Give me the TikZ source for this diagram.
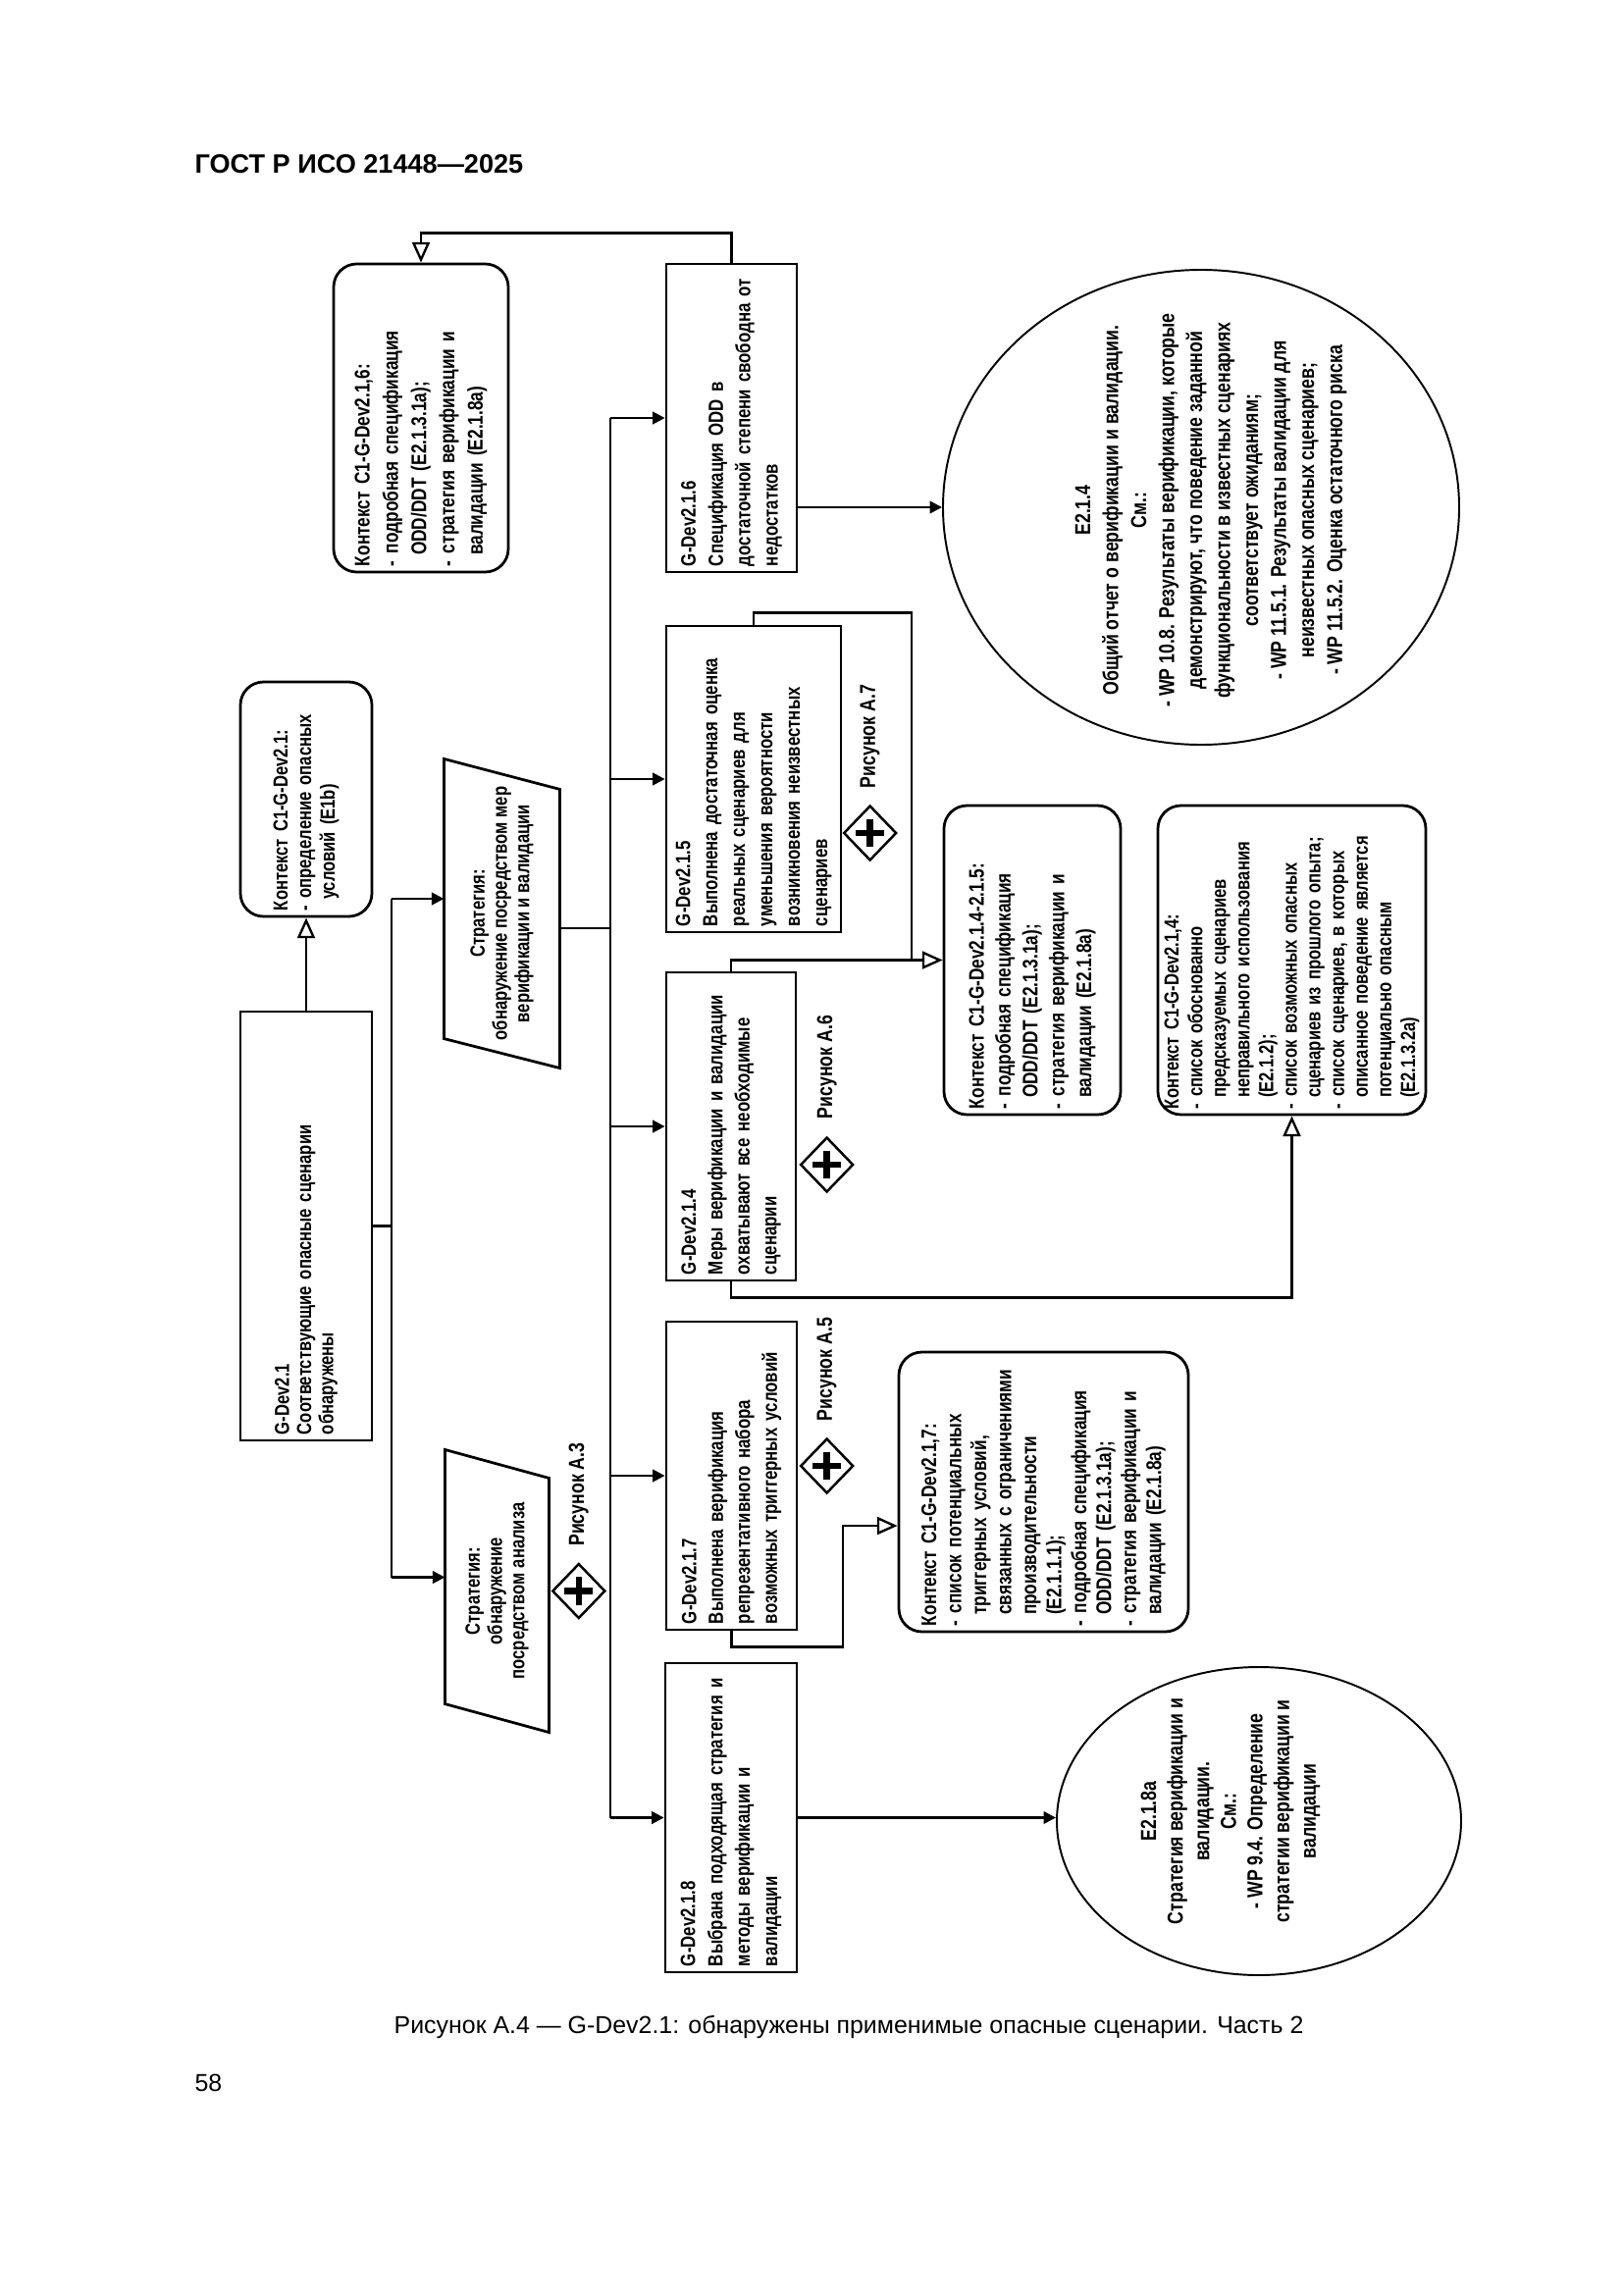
\documentclass[tikz,border=0pt]{standalone}
\usepackage{fontspec}
\setmainfont{Liberation Sans}
\newfontfamily\dfont[FakeStretch=0.8]{Liberation Sans}
\usetikzlibrary{arrows.meta,shapes.geometric,calc}
\newdimen\pxu \pxu=0.12697mm
\newcommand\hind{\hspace*{1.4mm}}
\begin{document}
\begin{tikzpicture}[x=0.12697mm, y=-0.12697mm,
  base/.style={font=\dfont\bfseries\fontsize{7.6}{10.1}\selectfont, inner sep=0pt},
  fs/.style 2 args={font=\dfont\bfseries\fontsize{#1}{#2}\selectfont},
  box/.style 2 args={minimum width=#1*\pxu, minimum height=#2*\pxu, text width=#1*\pxu-12*\pxu},
  goal/.style={base, draw, line width=1pt, rotate=90, align=left, inner xsep=6*\pxu, inner ysep=0pt},
  ctxbox/.style={goal, rounded corners=8.5pt},
  strat/.style={base, rotate=90, align=center},
  solution/.style={draw, ellipse, line width=0.7pt, inner sep=0pt},
  soltext/.style={base, rotate=90, align=center},
  dmd/.style={diamond, draw, line width=0.9pt, fill=white, inner sep=0pt,
    minimum width=54*\pxu, minimum height=56*\pxu,
    path picture={
      \draw[line width=2.3pt] ([xshift=-5.2pt]path picture bounding box.center) -- ([xshift=5.2pt]path picture bounding box.center);
      \draw[line width=2.3pt] ([yshift=-5.2pt]path picture bounding box.center) -- ([yshift=5.2pt]path picture bounding box.center);}},
  lbl/.style={base, fs={8}{10}, rotate=90, anchor=west},
  line/.style={line width=0.85pt},
  arr/.style={line, -{Triangle[length=4.5pt,width=4.5pt]}},
  ctx/.style={line, -{Triangle[open,length=7.5pt,width=6.5pt]}}
]
\fill[white] (0,0) rectangle (1654,2339);
\useasboundingbox (0,0) rectangle (1654,2339);

% header, caption, page number
\node[anchor=base west, inner sep=0pt, font=\bfseries\fontsize{9.8}{12}\selectfont] (hdr) at (198,177) {ГОСТ Р ИСО 21448—2025};
\node[anchor=base, inner sep=0pt, font=\fontsize{9}{11}\selectfont] (cap) at (865,2072) {Рисунок А.4 — G-Dev2.1: обнаружены применимые опасные сценарии. Часть 2};
\node[anchor=base west, inner sep=0pt, font=\fontsize{9}{11}\selectfont] (pg) at (198,2131) {58};

% goals
\node[goal, box={437}{134}, fs={7.5}{8.1}] (g21) at (312,1249.5) {G-Dev2.1\\Соответствующие опасные сценарии\\обнаружены};
\node[goal, box={314}{133}] (g216) at (745.5,426) {G-Dev2.1.6\\Спецификация ODD в\\достаточной степени свободна от\\недостатков};
\node[goal, box={312}{178}] (g215) at (768,794) {G-Dev2.1.5\\Выполнена достаточная оценка\\реальных сценариев для\\уменьшения вероятности\\возникновения неизвестных\\сценариев};
\node[goal, box={314}{132}, fs={7.6}{9.9}] (g214) at (745,1148) {G-Dev2.1.4\\Меры верификации и валидации\\охватывают все необходимые\\сценарии};
\node[goal, box={314}{133}, fs={7.6}{9.9}] (g217) at (745.5,1504) {G-Dev2.1.7\\Выполнена верификация\\репрезентативного набора\\возможных триггерных условий};
\node[goal, box={315}{134}] (g218) at (745,1852.5) {G-Dev2.1.8\\Выбрана подходящая стратегия и\\методы верификации и\\валидации};

% contexts
\node[ctxbox, box={239}{134}, fs={7.5}{8.7}] (c21) at (312,814.5) {Контекст C1-G-Dev2.1:\\- определение опасных\\\hind условий (E1b)};
\node[ctxbox, box={314}{178}, fs={7.8}{10.4}] (c216) at (429,426) {Контекст C1-G-Dev2.1,6:\\- подробная спецификация\\\hind ODD/DDT (E2.1.3.1a);\\- стратегия верификации и\\\hind валидации (E2.1.8a)};
\node[ctxbox, box={315}{180}, fs={7.8}{9.9}] (c2145) at (1052,978.5) {Контекст C1-G-Dev2.1.4-2.1.5:\\- подробная спецификация\\\hind ODD/DDT (E2.1.3.1a);\\- стратегия верификации и\\\hind валидации (E2.1.8a)};
\node[ctxbox, box={315}{273}, fs={7.5}{8.7}] (c214) at (1316.5,978.5) {Контекст C1-G-Dev2.1,4:\\- список обоснованно\\\hind предсказуемых сценариев\\\hind неправильного использования\\\hind (E2.1.2);\\- список возможных опасных\\\hind сценариев из прошлого опыта;\\- список сценариев, в которых\\\hind описанное поведение является\\\hind потенциально опасным\\\hind (E2.1.3.2a)};
\node[ctxbox, box={285}{295}, fs={7.8}{9.2}] (c217) at (1063.5,1520.5) {Контекст C1-G-Dev2.1,7:\\- список потенциальных\\\hind триггерных условий,\\\hind связанных с ограничениями\\\hind производительности\\\hind (E2.1.1.1);\\- подробная спецификация\\\hind ODD/DDT (E2.1.3.1a);\\- стратегия верификации и\\\hind валидации (E2.1.8a)};

% strategies
\node[strat, minimum width=314*\pxu, minimum height=117*\pxu, fs={7.5}{8.2}] (s1) at (511.5,931) {Стратегия:\\обнаружение посредством мер\\верификации и валидации};
\draw[line width=1pt] (s1.north east) -- ($(s1.south east)+(0,31)$) -- (s1.south west) -- ($(s1.north west)+(0,-30)$) -- cycle;
\node[strat, minimum width=287*\pxu, minimum height=105*\pxu, fs={7.5}{8.2}] (s2) at (506.5,1621.5) {Стратегия:\\обнаружение\\посредством анализа};
\draw[line width=1pt] (s2.north east) -- ($(s2.south east)+(0,29)$) -- (s2.south west) -- ($(s2.north west)+(0,-29)$) -- cycle;

% solutions
\node[solution, minimum width=526*\pxu, minimum height=484*\pxu] (e214) at (1224,517) {};
\node[soltext, fs={8}{10.3}] (e214t) at (1234,520) {E2.1.4\\Общий отчет о верификации и валидации.\\См.:\\- WP 10.8. Результаты верификации, которые\\демонстрируют, что поведение заданной\\функциональности в известных сценариях\\соответствует ожиданиям;\\- WP 11.5.1. Результаты валидации для\\неизвестных опасных сценариев;\\- WP 11.5.2. Оценка остаточного риска};
\node[solution, minimum width=412*\pxu, minimum height=314*\pxu] (e218) at (1283,1856) {};
\node[soltext, fs={8}{9.8}] (e218t) at (1254,1846) {E2.1.8a\\Стратегия верификации и\\валидации.\\См.:\\- WP 9.4. Определение\\стратегии верификации и\\валидации};

% undeveloped diamonds and labels
\node[dmd, anchor=west] (d215) at ($(g215.south)+(0,55)$) {};
\node[dmd, anchor=west] (d214) at ($(g214.south)+(2,39)$) {};
\node[dmd, anchor=west] (d217) at ($(g217.south)+(1,-10)$) {};
\node[dmd, anchor=west] (ds2) at ($(s2.south)+(2,0)$) {};
\node[lbl] (l7) at ($(d215.north)+(0,-16)$) {Рисунок А.7};
\node[lbl] (l6) at ($(d214.north)+(0,-17)$) {Рисунок А.6};
\node[lbl] (l5) at ($(d217.north)+(0,-16)$) {Рисунок А.5};
\node[lbl] (l3) at ($(ds2.north)+(0,-16)$) {Рисунок А.3};

% connectors: strategy bus
\coordinate (sb) at (399,0);
\coordinate (mb) at (622,0);
\coordinate (s1in) at ($(s1.north)+(0,-15)$);
\coordinate (s1out) at ($(s1.south)+(0,15)$);
\coordinate (s2in) at ($(s2.north)+(0,-14)$);
\draw[line] (s1in -| sb) -- (s2in -| sb);
\draw[line] (g21.south) -- (g21.south -| sb);
\draw[arr] (s1in -| sb) -- (s1in);
\draw[arr] (s2in -| sb) -- (s2in);

% main bus
\draw[line] (g216.north -| mb) -- (g218.north -| mb);
\draw[line] (s1out) -- (s1out -| mb);
\foreach \n in {g216,g215,g214,g217,g218} \draw[arr] (\n.north -| mb) -- (\n.north);

% solutions
\draw[arr] (g216.south |- e214.west) -- (e214.west);
\draw[arr] (g218.south) -- (g218.south -| e218.west);

% context links
\draw[ctx] (g21.east) -- (c21.west);
\draw[ctx] (g216.east) -- ++(0,-30) -| (c216.east);
\coordinate (j1) at (929,0);
\draw[line] (g215.east) -- ++(0,-12) -| (c2145.north -| j1);
\draw[ctx] (g214.east) |- (c2145.north);
\draw[ctx] (g214.west) -- ++(0,16) -| (c214.west);
\coordinate (k1) at (859,1555);
\draw[ctx] (g217.west) -- ++(0,16) -| (k1) -- (k1 -| c217.north);
\end{tikzpicture}
\end{document}
